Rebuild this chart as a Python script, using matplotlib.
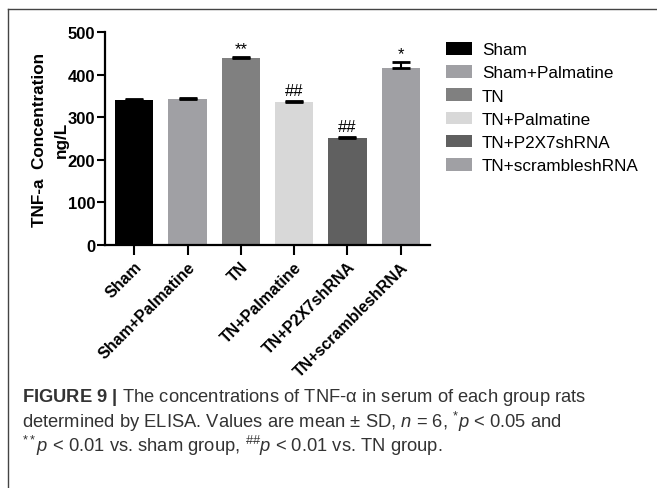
import numpy as np
import matplotlib
matplotlib.use('Agg')
import matplotlib.pyplot as plt
from matplotlib.lines import Line2D
from matplotlib.patches import Patch

# data
groups = ['Sham', 'Sham+Palmatine', 'TN', 'TN+Palmatine', 'TN+P2X7shRNA', 'TN+scrambleshRNA']
means = [341, 342, 440, 335, 252, 416]
sds = [2, 3, 2, 2, 2, 13]
marks = ['', '', '**', '##', '##', '*']
colors = ['#000000', '#a0a0a4', '#808080', '#d8d8d8', '#606060', '#a0a0a4']

caption1 = r"$\bf{FIGURE\ 9\ |}$ The concentrations of TNF-α in serum of each group rats"
caption2 = r"determined by ELISA. Values are mean ± SD, $\it{n}$ = 6, $^{*}\it{p}$ < 0.05 and"
caption3 = r"$^{**}\it{p}$ < 0.01 vs. sham group, $^{\#\#}\it{p}$ < 0.01 vs. TN group."

plt.rcParams['font.family'] = 'Liberation Sans'
plt.rcParams['mathtext.fontset'] = 'custom'
plt.rcParams['mathtext.rm'] = 'Liberation Sans'
plt.rcParams['mathtext.it'] = 'Liberation Sans:italic'
plt.rcParams['mathtext.bf'] = 'Liberation Sans:bold'

W, H = 657, 489
fig = plt.figure(figsize=(W / 100, H / 100), dpi=100)
ax = fig.add_axes([105 / W, 1 - 246 / H, 325 / W, 213 / H])

x = np.arange(len(groups))
ax.bar(x, means, width=0.72, color=colors, zorder=2)
ax.errorbar(x, means, yerr=[np.zeros(len(sds)), sds], fmt='none', ecolor='black',
            elinewidth=1.5, capsize=6.5, capthick=2, zorder=3)
for xi, m, s, t in zip(x, means, sds, marks):
    if t:
        off = 2 if '*' in t else 7
        ax.text(xi, m + s + off, t, ha='center', va='bottom', fontsize=12, color='black')

ax.set_xlim(-0.55, 5.55)
ax.set_ylim(0, 500)
ax.set_yticks([0, 100, 200, 300, 400, 500])
ax.set_xticks(x)
ax.set_xticklabels(groups, rotation=45, ha='right', rotation_mode='anchor',
                   fontsize=11.5, fontweight='bold')
for lab in ax.get_yticklabels():
    lab.set_fontweight('bold')
    lab.set_fontsize(12)
ax.tick_params(axis='y', direction='out', length=6, width=1.5, pad=1)
ax.tick_params(axis='x', direction='out', length=7, width=1.5, pad=3)
for side in ['top', 'right']:
    ax.spines[side].set_visible(False)
for side in ['left', 'bottom']:
    ax.spines[side].set_linewidth(1.6)
ax.set_ylabel('TNF-a  Concentration\nng/L', fontsize=12.3, fontweight='bold',
              labelpad=-1, linespacing=1.6)

# legend
handles = [Patch(facecolor=c, edgecolor='none') for c in colors]
fig.legend(handles, groups, loc='upper left', bbox_to_anchor=(446 / W, 1 - 43 / H),
           frameon=False, fontsize=12.3, handlelength=1.5, handleheight=0.75,
           handletextpad=0.6, labelspacing=0.47, borderpad=0, borderaxespad=0)

# frame lines
fig.add_artist(Line2D([8 / W, 8 / W], [0, 1 - 10 / H], color='#444444', lw=1.0))
fig.add_artist(Line2D([8 / W, 1], [1 - 10 / H, 1 - 10 / H], color='#444444', lw=1.0))

# caption
cap_kw = dict(fontsize=13.2, color='#333333', ha='left', va='center')
fig.text(22 / W, 1 - 398 / H, caption1, **cap_kw)
fig.text(22 / W, 1 - 422 / H, caption2, **cap_kw)
fig.text(22 / W, 1 - 446 / H, caption3, **cap_kw)

fig.savefig('out.png', dpi=100)
